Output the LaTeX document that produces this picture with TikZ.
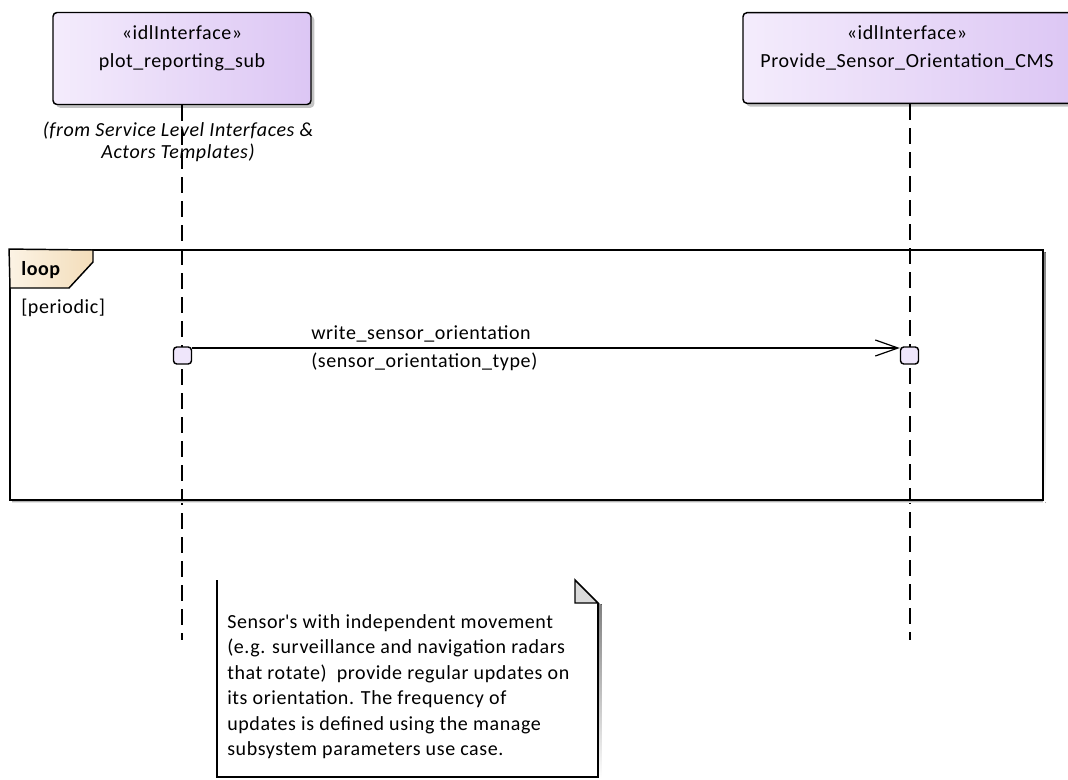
\documentclass[tikz,border=0pt]{standalone}
\usepackage{fontspec}
\setmainfont{Carlito}[LetterSpace=3]
\usetikzlibrary{arrows.meta,shadows}
\definecolor{ifl}{HTML}{F4ECFC}
\definecolor{ifr}{HTML}{DCC6F4}
\definecolor{tabl}{HTML}{FCF3E4}
\definecolor{tabr}{HTML}{F3DDBA}
\definecolor{actfill}{HTML}{EFE6FB}
\definecolor{foldfill}{HTML}{DADADA}
\definecolor{shade}{HTML}{B4B4B4}
\tikzset{
  txt/.style={inner sep=0pt, font=\fontsize{15}{18.75}\selectfont},
  ifacebox/.style={draw=black, line width=1.1pt, rounded corners=3pt, left color=ifl, right color=ifr,
     drop shadow={shadow xshift=2.5pt, shadow yshift=-2.5pt, fill=shade, opacity=0.8}, inner sep=0pt},
  lifeline/.style={draw=black, line width=0.9pt, dash pattern=on 12pt off 6pt},
  actbox/.style={draw=black, line width=1.1pt, rounded corners=2.5pt, fill=actfill, minimum width=13.5pt, minimum height=12.75pt, inner sep=0pt},
  msgline/.style={draw=black, line width=0.9pt, -{Straight Barb[length=17pt,width=12pt,line width=0.9pt]}},
  frame/.style={draw=black, line width=1.4pt, inner sep=0pt},
}
\begin{document}
\begin{tikzpicture}[x=0.75pt,y=-0.75pt]
\useasboundingbox (0,0) rectangle (1068,779);
% interface boxes
\node[ifacebox, minimum width=193.5pt, minimum height=69pt] (box1) at (182,58.5) {};
\node[ifacebox, minimum width=250.5pt, minimum height=68pt] (box2) at (910,58) {};
\node[txt, anchor=base] (st1) at (182,39) {«idlInterface»};
\node[txt, anchor=base] (nm1) at (182,67) {plot\_reporting\_sub};
\node[txt, anchor=base] (st2) at (907,39) {«idlInterface»};
\node[txt, anchor=base] (nm2) at (907,67) {Provide\_Sensor\_Orientation\_CMS};
% lifelines
\coordinate (l1end) at (182,640);
\coordinate (l2end) at (910,640);
\draw[lifeline] (box1.south) -- (l1end);
\draw[lifeline] (box2.south) -- (l2end);
% from text
\node[txt, anchor=base, font=\fontsize{15}{18.75}\selectfont\itshape] (from1) at (178,136) {(from Service Level Interfaces \&};
\node[txt, anchor=base, font=\fontsize{15}{18.75}\selectfont\itshape] (from2) at (178,158) {Actors Templates)};
% loop frame
\fill[shade] (12,500) rectangle (1045.5,502.5);
\fill[shade] (1043,252) rectangle (1045.5,502.5);
\node[frame, minimum width=774.75pt, minimum height=187.5pt] (loopframe) at (526.5,375) {};
\path[draw=black, line width=1.1pt, left color=tabl, right color=tabr] (loopframe.north west) -- (93,250) -- (93,262) -- (69,288) -- (10,288) -- cycle;
\node[txt, anchor=base west, font=\fontsize{15}{18.75}\selectfont\bfseries] (looplbl) at (21,275) {loop};
\node[txt, anchor=base west] (guard) at (21,313) {[periodic]};
% activations
\node[actbox] (act1) at (182.5,355.5) {};
\node[actbox] (act2) at (909.5,355.5) {};
\coordinate (msgy) at (0,348);
\draw[msgline] (act1.east |- msgy) -- (act2.west |- msgy);
\node[txt, anchor=base west] (msg1) at (311,339) {write\_sensor\_orientation};
\node[txt, anchor=base west] (msg2) at (311,367) {(sensor\_orientation\_type)};
% note
\fill[shade] (598.5,604) rectangle (601.5,779);
\draw[line width=1.1pt] (217,580) -- (217,777) -- (598,777) -- (598,603);
\path[draw=black, line width=1.1pt, fill=foldfill] (575,580) -- (598,603) -- (575,603) -- cycle;
\node[txt, anchor=north west, align=left, font=\fontsize{15}{19.1}\selectfont] (notetext) at (227,614) {%
Sensor\textquotesingle s with independent movement\\
(e.g. surveillance and navigation radars\\
that rotate)~ provide regular updates on\\
its orientation. The frequency of\\
updates is defined using the manage\\
subsystem parameters use case.};
\end{tikzpicture}
\end{document}
